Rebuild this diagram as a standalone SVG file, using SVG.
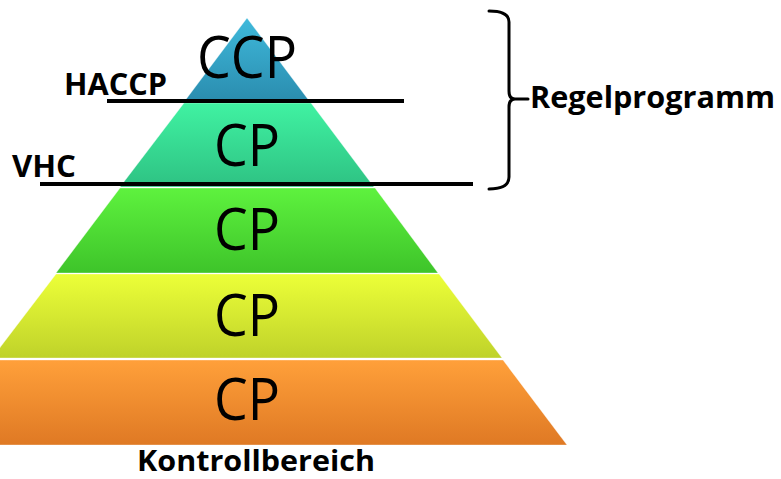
<svg xmlns="http://www.w3.org/2000/svg" width="781" height="479" viewBox="0 0 781 479">
<style>
.cp{font-family:"Open Sans","Liberation Sans",Arial,sans-serif;font-size:59px;fill:#000;text-anchor:middle}
.lbl{font-family:"Open Sans","Liberation Sans",Arial,sans-serif;font-size:30px;font-weight:bold;fill:#000}
.ln{stroke:#000;stroke-width:4;fill:none}
.br{stroke:#000;stroke-width:3;fill:none;stroke-linecap:round}
.band{stroke:#fff;stroke-opacity:0.35;stroke-width:1}
</style>
<defs>
<linearGradient id="g1" x1="0" y1="0" x2="0" y2="1"><stop offset="0" stop-color="#3fb9db"/><stop offset="1" stop-color="#2a8cae"/></linearGradient>
<linearGradient id="g2" x1="0" y1="0" x2="0" y2="1"><stop offset="0" stop-color="#40f2a2"/><stop offset="1" stop-color="#2ec283"/></linearGradient>
<linearGradient id="g3" x1="0" y1="0" x2="0" y2="1"><stop offset="0" stop-color="#5ef23e"/><stop offset="1" stop-color="#3ec42a"/></linearGradient>
<linearGradient id="g4" x1="0" y1="0" x2="0" y2="1"><stop offset="0" stop-color="#ecff38"/><stop offset="1" stop-color="#bfd22a"/></linearGradient>
<linearGradient id="g5" x1="0" y1="0" x2="0" y2="1"><stop offset="0" stop-color="#ffa03a"/><stop offset="1" stop-color="#df7924"/></linearGradient>
</defs>
<g id="level1">
<polygon class="band" points="247,18 310,102 184,102" fill="url(#g1)"/>
<text class="cp" x="247" y="78" textLength="100" lengthAdjust="spacingAndGlyphs">CCP</text>
</g>
<g id="level2">
<polygon class="band" points="184,103 311,103 374,187 120,187" fill="url(#g2)"/>
<text class="cp" x="247" y="166" textLength="66" lengthAdjust="spacingAndGlyphs">CP</text>
</g>
<g id="level3">
<polygon class="band" points="120,188 375,188 438,273 56,273" fill="url(#g3)"/>
<text class="cp" x="247" y="250" textLength="66" lengthAdjust="spacingAndGlyphs">CP</text>
</g>
<g id="level4">
<polygon class="band" points="56,274 439,274 502,358 -8,358" fill="url(#g4)"/>
<text class="cp" x="247" y="336" textLength="66" lengthAdjust="spacingAndGlyphs">CP</text>
</g>
<g id="level5">
<polygon class="band" points="-8,360 503,360 567,445 -74,445" fill="url(#g5)"/>
<text class="cp" x="247" y="420" textLength="66" lengthAdjust="spacingAndGlyphs">CP</text>
</g>
<g id="connectors">
<line class="ln" x1="107" y1="101" x2="404" y2="101"/>
<line class="ln" x1="40" y1="184" x2="473" y2="184"/>
<path class="br" d="M489,11 Q509,11 509,22 L509,91 Q509,99 515,99 L528,99 M515,99 Q509,99 509,107 L509,177 Q509,189 489,189"/>
</g>
<g id="labels">
<text class="lbl" x="64" y="95" textLength="103" lengthAdjust="spacingAndGlyphs">HACCP</text>
<text class="lbl" x="12" y="177" textLength="64" lengthAdjust="spacingAndGlyphs">VHC</text>
<text class="lbl" x="530" y="108" textLength="245" lengthAdjust="spacingAndGlyphs">Regelprogramm</text>
<text class="lbl" x="137" y="471" style="font-size:28px" textLength="238" lengthAdjust="spacingAndGlyphs">Kontrollbereich</text>
</g>
</svg>
